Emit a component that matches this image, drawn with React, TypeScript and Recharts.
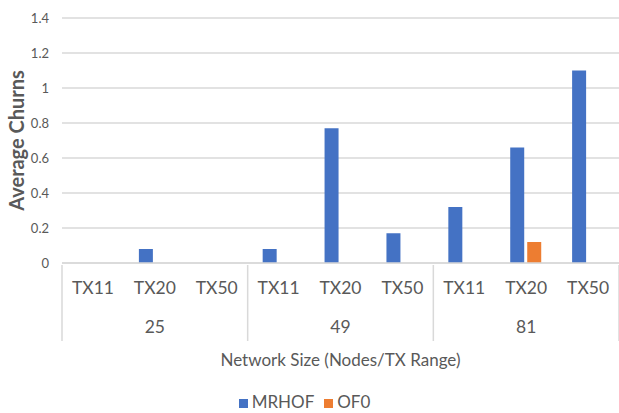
import React from 'react'
import { BarChart, Bar, CartesianGrid, XAxis, YAxis, Legend, Label } from 'recharts'

const networkSizes = ['25', '49', '81']
const txRanges = ['TX11', 'TX20', 'TX50']
const mrhofChurns = [0, 0.08, 0, 0.08, 0.77, 0.17, 0.32, 0.66, 1.1]
const of0Churns = [0, 0, 0, 0, 0, 0, 0, 0.12, 0]
const yTicks = [0, 0.2, 0.4, 0.6, 0.8, 1, 1.2, 1.4]

const TEXT = '#595959'
const LINE = '#d9d9d9'
const FONT = 'Lato, "Open Sans", sans-serif'

const chartData = networkSizes.flatMap((size, g) =>
  txRanges.map((tx, t) => ({
    key: `${size}-${tx}`,
    size,
    tx,
    MRHOF: mrhofChurns[g * 3 + t],
    OF0: of0Churns[g * 3 + t],
  }))
)

// two-level category tick: TX range on top, network size underneath, group dividers
const GroupedTick = (props: any) => {
  const { x, y, index, payload } = props
  const row = chartData[index]
  const half = payload.offset || 0
  const pos = index % txRanges.length
  return (
    <g>
      <text x={x} y={y + 29} textAnchor='middle' fill={TEXT} fontSize={17.5} fontFamily={FONT}>
        {row.tx}
      </text>
      {pos === 1 && (
        <text x={x} y={y + 68} textAnchor='middle' fill={TEXT} fontSize={17.5} fontFamily={FONT}>
          {row.size}
        </text>
      )}
      {pos === 0 && <line x1={x - half} y1={y} x2={x - half} y2={y + 76} stroke={LINE} strokeWidth={1.5} />}
      {index === chartData.length - 1 && (
        <line x1={x + half} y1={y} x2={x + half} y2={y + 76} stroke={LINE} strokeWidth={1.5} />
      )}
    </g>
  )
}

const App = () => {
  return (
    <div style={{ position: 'absolute', left: 0, top: 0, background: '#fff' }}>
      <BarChart
        width={619}
        height={413}
        data={chartData}
        margin={{ top: 18, right: 0, bottom: 29, left: 0 }}
        barSize={14}
        barGap={3}
      >
        <CartesianGrid vertical={false} stroke={LINE} strokeWidth={1.5} />
        <XAxis
          dataKey='key'
          height={100}
          interval={0}
          tickLine={false}
          tickSize={0}
          axisLine={{ stroke: LINE, strokeWidth: 1.5 }}
          tick={<GroupedTick />}
        >
          <Label
            value='Network Size (Nodes/TX Range)'
            position='insideBottom'
            offset={-3}
            style={{ fill: TEXT, fontSize: 17, fontFamily: FONT }}
          />
        </XAxis>
        <YAxis
          width={62}
          domain={[0, 1.4]}
          ticks={yTicks}
          axisLine={false}
          tickLine={false}
          tickSize={0}
          tickMargin={13}
          tick={{ fill: TEXT, fontSize: 13, fontFamily: FONT }}
        >
          <Label
            value='Average Churns'
            angle={-90}
            position='insideLeft'
            offset={17}
            style={{ fill: TEXT, fontSize: 20, fontWeight: 700, fontFamily: FONT, textAnchor: 'middle' }}
          />
        </YAxis>
        <Legend
          verticalAlign='bottom'
          iconType='square'
          iconSize={9}
          wrapperStyle={{ top: 391, fontFamily: FONT, fontSize: 17, color: TEXT }}
          formatter={(value: string) => <span style={{ color: TEXT }}>{value}</span>}
        />
        <Bar dataKey='MRHOF' fill='#4472C4' isAnimationActive={false} />
        <Bar dataKey='OF0' fill='#ED7D31' isAnimationActive={false} />
      </BarChart>
    </div>
  )
}

export default App
